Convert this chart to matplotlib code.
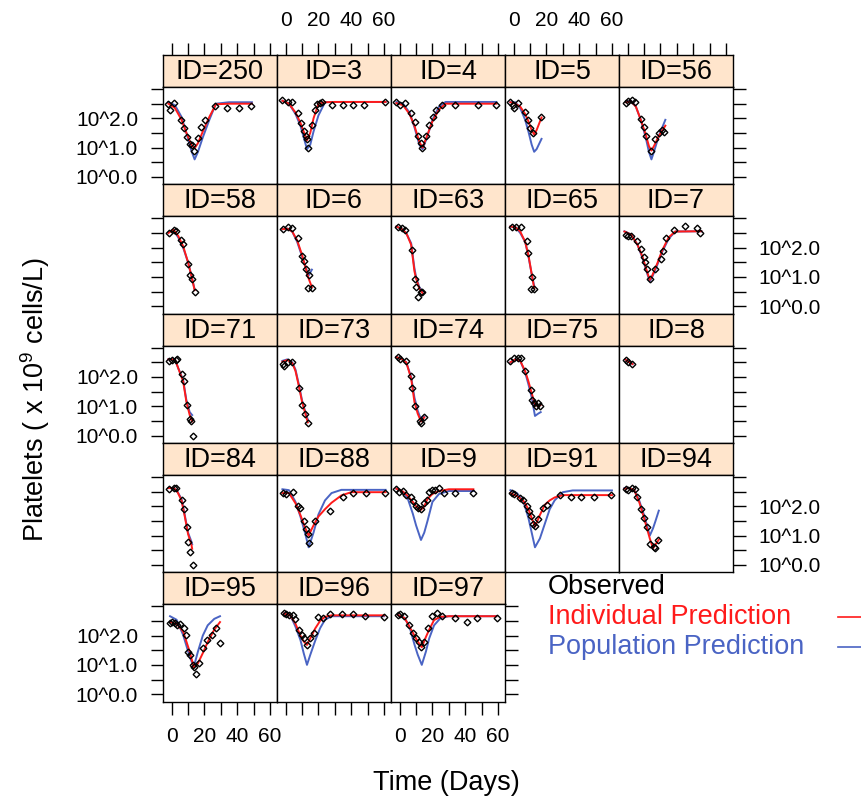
import matplotlib.pyplot as plt
from matplotlib.lines import Line2D

plt.rcParams['font.family'] = ['Liberation Sans', 'DejaVu Sans']
plt.rcParams['mathtext.default'] = 'regular'

# subject ids, in panel order
ids = [250, 3, 4, 5, 56, 58, 6, 63, 65, 7, 71, 73, 74, 75, 8,
       84, 88, 9, 91, 94, 95, 96, 97]

# observed platelets: time (days) and log10(x 10^9 cells/L)
obs_t = {
    250: [-2, -0.9, 1.3, 5.8, 7.3, 9.1, 10.9, 12.4, 13.6, 15.8, 18, 20.2, 26.4, 33.6, 40.9, 48.7],
    3: [-2, 1.3, 3.6, 7.3, 9.1, 11.3, 12.4, 13.1, 13.6, 15.8, 17.6, 19.1, 20.7, 22.4, 28, 34.7, 41.3, 48, 60.7],
    4: [-2, 0.2, 3.1, 6.9, 9.1, 11.3, 12.9, 13.6, 15.8, 18, 20.2, 22.4, 25.8, 33.6, 48, 59.1],
    5: [-2, -0.4, 0.2, 2.4, 6.9, 8.7, 10.2, 12, 16.9],
    56: [-0.9, 0.2, 2.4, 4.7, 8, 9.8, 11.3, 14.2, 16.9, 19.1, 20.9, 22.4],
    58: [-1.6, 1.3, 2.9, 5.8, 6.9, 10.2, 10.9, 12.4, 14],
    6: [-1.6, 1.3, 3.6, 7.3, 10.2, 11.3, 12.4, 14, 13.6, 15.8],
    63: [-1.3, 1.3, 3.1, 7.6, 9.6, 10.2, 11.3, 12.9, 13.5],
    65: [-1.3, 1.3, 4.7, 8, 8.7, 11.3, 10.7, 12.4],
    7: [-1.3, 0.2, 2, 5.8, 8, 9.8, 10.7, 12, 13.6, 16.9, 20.2, 21.3, 23.6, 28, 35.1, 42.4, 44],
    71: [-1.6, 0, 2.4, 3.5, 6.4, 7.3, 9.1, 10.9, 11.8, 13.1],
    73: [-1.6, -0.9, 1.3, 3.6, 8, 10.2, 11.8, 13.6],
    74: [-1.3, 0.2, 4, 6.9, 7.6, 9.1, 12.4, 13, 14.7],
    75: [-2, 0.2, 2.4, 4.7, 6.9, 10.7, 11.3, 12.4, 13.6, 14.7, 15.8],
    8: [-1.3, 0.2, 2.4],
    84: [-1.6, 1.3, 2.9, 6.4, 7.3, 9.1, 10.2, 11.3, 13.1],
    88: [-1.6, 0.2, 4.7, 7.3, 8.7, 10.9, 12.4, 13.6, 14, 18, 27.3, 34.7, 41.3, 49.1, 60.7],
    9: [-2, -0.4, 1.8, 4, 6.9, 8, 10.2, 11.3, 12.9, 14.7, 16.4, 18, 19.6, 21.3, 24, 26.9, 33.6, 44.7],
    91: [-1.3, 0.2, 3.6, 5.8, 8, 9.1, 10.7, 12, 12.9, 14.7, 18, 20.2, 28, 34.7, 41.3, 49.1, 59.6],
    94: [-1.3, 0.2, 2.4, 4.7, 5.8, 8, 10, 12, 13.6, 15.8, 16.9, 18.7],
    95: [-0.8, 0.4, 1.8, 3.2, 4.8, 7.3, 8.5, 9.9, 11.4, 13, 13.8, 14.6, 16.6, 19.1, 21.7, 24.7, 27.2, 29.8],
    96: [-1.2, 0.2, 1.8, 4.3, 5.5, 7.9, 9.9, 11.4, 13, 15, 17, 19.7, 23, 27.2, 34.3, 40.8, 48.5, 60.2],
    97: [-1.2, 0.4, 2.4, 5.5, 7.9, 9.9, 11.6, 13.2, 14.6, 17.2, 19.7, 22.7, 25.8, 33.5, 41, 47.1, 59.2],
}
obs_y = {
    250: [2.5, 2.3, 2.52, 1.94, 1.67, 1.37, 1.11, 1.08, 0.89, 1.33, 1.72, 1.94, 2.41, 2.37, 2.37, 2.41],
    3: [2.61, 2.56, 2.56, 2.17, 1.83, 1.56, 1.39, 1.28, 1.0, 1.78, 2.3, 2.48, 2.52, 2.56, 2.44, 2.44, 2.44, 2.44, 2.56],
    4: [2.56, 2.44, 2.52, 2.17, 1.89, 1.39, 1.17, 1.0, 1.39, 1.78, 2.06, 2.3, 2.44, 2.44, 2.44, 2.44],
    5: [2.56, 2.44, 2.37, 2.52, 2.22, 1.94, 1.67, 1.5, 2.03],
    56: [2.52, 2.59, 2.61, 2.56, 1.97, 1.72, 1.39, 0.89, 1.28, 1.5, 1.61, 1.52],
    58: [2.5, 2.61, 2.56, 2.26, 2.11, 1.44, 1.08, 0.94, 0.48],
    6: [2.63, 2.7, 2.67, 2.33, 1.72, 1.56, 1.28, 1.06, 0.61, 0.61],
    63: [2.72, 2.67, 2.59, 1.92, 0.94, 0.67, 0.33, 0.48, 0.5],
    65: [2.7, 2.7, 2.7, 2.22, 1.83, 1.0, 0.59, 0.59],
    7: [2.44, 2.41, 2.41, 2.22, 1.94, 1.67, 1.5, 1.28, 0.94, 1.28, 1.61, 1.89, 2.33, 2.59, 2.74, 2.67, 2.5],
    71: [2.56, 2.59, 2.59, 2.61, 2.11, 1.86, 1.03, 0.56, 0.5, -0.03],
    73: [2.44, 2.37, 2.5, 2.52, 1.61, 1.06, 0.72, 0.44],
    74: [2.67, 2.61, 2.56, 2.03, 1.61, 1.0, 0.5, 0.42, 0.63],
    75: [2.56, 2.63, 2.63, 2.63, 2.22, 1.56, 1.22, 1.11, 1.0, 1.11, 1.0],
    8: [2.59, 2.52, 2.44],
    84: [2.59, 2.63, 2.61, 2.22, 1.89, 1.28, 0.78, 0.44, 0.0],
    88: [2.44, 2.41, 2.5, 2.0, 1.94, 1.5, 1.22, 1.06, 0.74, 1.5, 1.83, 2.33, 2.44, 2.44, 2.44],
    9: [2.59, 2.5, 2.52, 2.37, 2.33, 2.17, 2.0, 1.94, 1.89, 2.11, 2.22, 2.5, 2.56, 2.56, 2.61, 2.44, 2.44, 2.44],
    91: [2.44, 2.41, 2.28, 2.22, 2.0, 1.83, 1.67, 1.39, 1.33, 1.56, 1.94, 2.03, 2.39, 2.3, 2.3, 2.3, 2.37],
    94: [2.59, 2.56, 2.61, 2.59, 2.33, 1.89, 1.6, 1.28, 0.72, 0.61, 0.59, 0.86],
    95: [2.43, 2.46, 2.43, 2.37, 2.39, 2.25, 2.02, 1.45, 1.33, 0.99, 0.93, 0.7, 1.05, 1.56, 1.85, 2.02, 2.25, 1.74],
    96: [2.77, 2.72, 2.69, 2.71, 2.55, 2.2, 2.02, 1.93, 1.68, 1.91, 2.08, 2.62, 2.6, 2.74, 2.74, 2.74, 2.66, 2.62],
    97: [2.69, 2.72, 2.66, 2.37, 2.08, 1.91, 1.79, 1.62, 1.79, 2.25, 2.66, 2.77, 2.66, 2.6, 2.46, 2.6, 2.6],
}

# prediction curves (log10), individual and population, on a common time grid
pred_t = {
    250: [-2, 2, 6, 9, 12, 14, 16, 19, 23, 27, 35, 49],
    3: [-2, 2, 6, 9, 11, 13, 15, 17, 20, 24, 30, 61],
    4: [-2, 2, 6, 9, 12, 14, 17, 20, 24, 28, 40, 59],
    5: [-2, 1, 4, 7, 9, 11, 12.5, 14, 17],
    56: [-1, 2, 5, 8, 11, 13, 14.5, 16, 19, 23],
    58: [-2, 1, 4, 7, 10, 12, 14],
    6: [-2, 1, 4, 7, 10, 12, 14, 16],
    63: [-2, 1, 4, 7, 9, 10, 12, 14],
    65: [-2, 1, 4, 7, 9, 11, 12.5],
    7: [-2, 2, 6, 9, 12, 13.5, 15, 18, 21, 25, 29, 45],
    71: [-2, 2, 4, 7, 9, 11, 12.5],
    73: [-2, 1, 4, 6, 8, 10, 12, 13.5],
    74: [-2, 1, 4, 7, 9, 11, 13, 15],
    75: [-2, 1, 4, 7, 9, 11, 13, 15, 16.5],
    8: [-1.5, 1, 3],
    84: [-2, 1, 3, 6, 8, 10, 12, 12.5],
    88: [-2, 2, 6, 9, 12, 14, 17, 20, 24, 28, 34, 40, 61],
    9: [-2, 2, 5, 8, 10, 13, 15, 17, 20, 24, 30, 45],
    91: [-2, 2, 6, 9, 11, 13, 16, 19, 22, 25, 30, 36, 60],
    94: [-2, 1, 4, 7, 10, 12, 13.5, 15.5, 17, 19],
    95: [-1, 3, 7, 11, 13.5, 16, 19, 22, 26, 29.5],
    96: [-1, 3, 6, 9, 11, 13, 15, 18, 21, 24, 28, 60],
    97: [-1, 3, 6, 9, 11, 13.5, 16, 18, 21, 25, 30, 59],
}
ipred = {
    250: [2.5, 2.35, 1.95, 1.5, 1.1, 0.98, 1.15, 1.55, 2.05, 2.48, 2.5, 2.5],
    3: [2.6, 2.5, 2.2, 1.85, 1.55, 1.25, 1.5, 2.0, 2.5, 2.55, 2.56, 2.56],
    4: [2.52, 2.45, 2.15, 1.75, 1.2, 1.0, 1.45, 1.9, 2.3, 2.5, 2.5, 2.5],
    5: [2.55, 2.5, 2.4, 2.15, 1.9, 1.6, 1.45, 1.6, 2.03],
    56: [2.55, 2.58, 2.4, 1.95, 1.45, 1.05, 0.9, 1.05, 1.4, 1.75],
    58: [2.5, 2.62, 2.4, 2.05, 1.5, 1.05, 0.55],
    6: [2.63, 2.65, 2.55, 2.25, 1.75, 1.35, 0.95, 0.65],
    63: [2.72, 2.65, 2.5, 2.1, 1.2, 0.95, 0.6, 0.45],
    65: [2.72, 2.7, 2.55, 2.2, 1.75, 1.1, 0.62],
    7: [2.55, 2.45, 2.1, 1.7, 1.15, 0.9, 1.05, 1.45, 1.9, 2.35, 2.55, 2.56],
    71: [2.6, 2.6, 2.3, 1.85, 1.15, 0.7, 0.48],
    73: [2.52, 2.58, 2.48, 2.2, 1.7, 1.15, 0.75, 0.45],
    74: [2.68, 2.62, 2.5, 1.95, 1.15, 0.75, 0.48, 0.62],
    75: [2.5, 2.6, 2.55, 2.2, 1.85, 1.45, 1.05, 1.0, 1.05],
    8: [2.6, 2.5, 2.44],
    84: [2.62, 2.62, 2.55, 2.2, 1.65, 1.05, 0.7, 0.55],
    88: [2.45, 2.45, 2.1, 1.7, 1.25, 1.0, 1.35, 1.65, 1.9, 2.12, 2.37, 2.48, 2.48],
    9: [2.6, 2.5, 2.35, 2.15, 2.0, 1.88, 2.0, 2.25, 2.42, 2.52, 2.58, 2.58],
    91: [2.45, 2.35, 2.18, 1.9, 1.6, 1.3, 1.7, 2.05, 2.2, 2.3, 2.38, 2.38, 2.38],
    94: [2.6, 2.62, 2.55, 2.15, 1.6, 1.2, 0.9, 0.56, 0.7, 0.86],
    95: [2.46, 2.4, 2.14, 1.45, 0.92, 1.05, 1.4, 1.78, 2.2, 2.46],
    96: [2.75, 2.68, 2.4, 2.0, 1.8, 1.68, 1.9, 2.24, 2.5, 2.64, 2.69, 2.69],
    97: [2.7, 2.6, 2.3, 2.0, 1.8, 1.6, 1.95, 2.2, 2.53, 2.64, 2.66, 2.66],
}
ppred = {
    250: [2.55, 2.45, 2.05, 1.5, 0.9, 0.6, 0.85, 1.35, 1.95, 2.5, 2.55, 2.55],
    3: [2.6, 2.5, 2.15, 1.75, 1.35, 0.95, 1.1, 1.55, 2.1, 2.55, 2.56, 2.56],
    4: [2.56, 2.5, 2.2, 1.7, 1.1, 0.95, 1.4, 1.95, 2.4, 2.56, 2.56, 2.56],
    5: [2.55, 2.55, 2.35, 1.95, 1.55, 1.1, 0.86, 0.95, 1.3],
    56: [2.58, 2.6, 2.4, 1.95, 1.35, 0.85, 0.6, 0.85, 1.4, 1.95],
    58: [2.52, 2.6, 2.35, 2.0, 1.5, 1.05, 0.58],
    6: [2.63, 2.65, 2.55, 2.2, 1.7, 1.35, 1.05, 1.25],
    63: [2.72, 2.65, 2.5, 2.15, 1.3, 1.0, 0.65, 0.5],
    65: [2.72, 2.7, 2.5, 2.2, 1.7, 1.1, 0.7],
    7: [2.56, 2.45, 2.1, 1.65, 1.1, 0.85, 1.0, 1.4, 1.85, 2.3, 2.55, 2.56],
    71: [2.6, 2.6, 2.3, 1.9, 1.2, 0.8, 0.7],
    73: [2.55, 2.6, 2.5, 2.25, 1.75, 1.2, 0.8, 0.55],
    74: [2.68, 2.62, 2.5, 2.0, 1.3, 0.85, 0.55, 0.65],
    75: [2.5, 2.6, 2.55, 2.15, 1.75, 1.3, 0.67, 0.75, 0.8],
    8: [2.6, 2.5, 2.44],
    84: [2.62, 2.62, 2.55, 2.25, 1.7, 1.1, 0.8, 0.7],
    88: [2.58, 2.55, 2.15, 1.65, 1.05, 0.6, 1.1, 1.72, 2.2, 2.45, 2.56, 2.56, 2.56],
    9: [2.6, 2.5, 2.25, 1.75, 1.35, 0.85, 1.1, 1.5, 2.15, 2.42, 2.52, 2.52],
    91: [2.55, 2.45, 2.15, 1.6, 1.1, 0.6, 0.9, 1.4, 1.9, 2.2, 2.48, 2.54, 2.54],
    94: [2.62, 2.62, 2.55, 2.2, 1.7, 1.3, 1.0, 1.25, 1.5, 1.85],
    95: [2.66, 2.54, 2.02, 1.28, 0.93, 1.45, 2.0, 2.35, 2.57, 2.66],
    96: [2.75, 2.68, 2.3, 1.85, 1.4, 1.0, 1.34, 1.82, 2.25, 2.54, 2.66, 2.66],
    97: [2.7, 2.6, 2.3, 1.7, 1.35, 1.0, 1.45, 1.9, 2.35, 2.6, 2.66, 2.66],
}

x_ticks = [0, 10, 20, 30, 40, 50, 60]
x_labels = ['0', '', '20', '', '40', '', '60']
y_ticks = [0, 0.5, 1, 1.5, 2, 2.5, 3]
y_labels = ['10^0.0', '', '10^1.0', '', '10^2.0', '', '']

RED = '#ff1a1a'
BLUE = '#4a64c4'
STRIP = '#ffe5cc'
W, H = 862, 800
FS = 19.5


def box(x, y, w, h):
    return [x / W, 1 - (y + h) / H, w / W, h / H]


fig = plt.figure(figsize=(W / 100, H / 100), dpi=100)
tick_kw = dict(direction='out', length=9, width=1.0, labelsize=15, pad=9)

ncol, nrow = 5, 5
for k, pid in enumerate(ids):
    r, c = divmod(k, ncol)
    last_in_row = (c == ncol - 1) or (k == len(ids) - 1)
    x0 = 163 + 114 * c
    y0 = 55 + 129.3 * r

    sax = fig.add_axes(box(x0, y0, 114, 32))
    sax.set_facecolor(STRIP)
    sax.set_xlim(-5.3, 64.3)
    sax.set_yticks([])
    sax.text(0.5, 0.47, f'ID={pid}', transform=sax.transAxes,
             ha='center', va='center', fontsize=FS)
    if r == 0:
        sax.xaxis.tick_top()
        sax.set_xticks(x_ticks)
        sax.set_xticklabels(x_labels if c in (1, 3) else [''] * 7)
        sax.tick_params(axis='x', **tick_kw)
    else:
        sax.set_xticks([])

    ax = fig.add_axes(box(x0, y0 + 32, 114, 97.3))
    ax.plot(pred_t[pid], ppred[pid], color=BLUE, lw=1.4, zorder=2)
    ax.plot(pred_t[pid], ipred[pid], color=RED, lw=1.4, zorder=3)
    ax.plot(obs_t[pid], obs_y[pid], 'D', ms=3.4, mfc='none', mec='black',
            mew=1.0, zorder=4)
    ax.set_xlim(-5.3, 64.3)
    ax.set_ylim(-0.25, 3.07)

    for s in list(ax.spines.values()) + list(sax.spines.values()):
        s.set_linewidth(1.0)

    # x axis: only on the bottom row
    if r == nrow - 1:
        ax.set_xticks(x_ticks)
        ax.set_xticklabels(x_labels if c in (0, 2) else [''] * 7)
        ax.tick_params(axis='x', **tick_kw)
    else:
        ax.set_xticks([])

    # y axis: left of first column, right of last panel in each row
    if c == 0 or last_in_row:
        ax.set_yticks(y_ticks)
        ax.tick_params(axis='y', left=(c == 0), right=last_in_row,
                       labelleft=(c == 0 and r % 2 == 0),
                       labelright=(last_in_row and c == ncol - 1 and r % 2 == 1),
                       **tick_kw)
        ax.set_yticklabels(y_labels)
    else:
        ax.set_yticks([])

# legend
fig.text(548 / W, 1 - 587 / H, 'Observed', color='black', fontsize=FS,
         ha='left', va='center')
fig.text(548 / W, 1 - 617 / H, 'Individual Prediction', color=RED,
         fontsize=FS, ha='left', va='center')
fig.text(548 / W, 1 - 647 / H, 'Population Prediction', color=BLUE,
         fontsize=FS, ha='left', va='center')
fig.add_artist(Line2D([838 / W, 862 / W], [1 - 617 / H] * 2, color=RED, lw=1.2))
fig.add_artist(Line2D([838 / W, 862 / W], [1 - 647 / H] * 2, color=BLUE, lw=1.2))

fig.text(446 / W, 1 - 783 / H, 'Time (Days)', fontsize=FS,
         ha='center', va='center')
fig.text(35 / W, 1 - 400 / H, 'Platelets ( x 10$^{9}$ cells/L)', fontsize=FS,
         rotation=90, ha='center', va='center')

fig.savefig('out.png', dpi=100)
